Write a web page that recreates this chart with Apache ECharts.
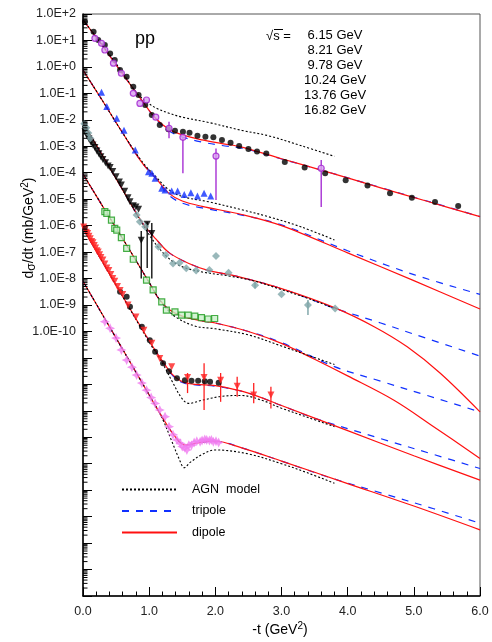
<!DOCTYPE html>
<html>
<head>
<meta charset="utf-8">
<script src="https://cdn.jsdelivr.net/npm/echarts@6/dist/echarts.min.js"></script>
<style>
  html, body { margin: 0; padding: 0; background: #fff; }
  #chart { width: 492px; height: 642px; }
</style>
</head>
<body>
<div id="chart"></div>
<script>
// all y values below are log10 of dsigma/dt (mb/GeV^2)

// --- 1st curve set ---
var s1Agn = [[0,1.78],[0.3,0.8],[0.6,-0.22],[0.8,-0.95],[0.95,-1.3],[1.1,-1.55],[1.3,-1.75],[1.5,-1.9],[1.9,-2.1],[2.4,-2.4],[2.8,-2.6],[3.3,-2.98],[3.8,-3.38]];
var s1Tri = [[0,1.78],[0.3,0.78],[0.6,-0.27],[0.9,-1.3],[1.1,-1.97],[1.3,-2.42],[1.5,-2.65],[1.8,-2.84],[2.1,-2.97],[2.4,-3.07],[3.0,-3.48],[3.6,-3.9],[4.5,-4.56],[5.2,-5.07],[6.0,-5.66]];
var s1Dip = [[0,1.78],[0.3,0.78],[0.6,-0.27],[0.9,-1.3],[1.1,-1.95],[1.3,-2.36],[1.5,-2.57],[1.8,-2.76],[2.1,-2.9],[2.4,-3.03],[3.0,-3.47],[3.6,-3.9],[4.5,-4.57],[5.2,-5.08],[6.0,-5.66]];
var s1Black = [[0.03,1.71],[0.16,1.33],[0.23,1.02],[0.33,0.83],[0.41,0.51],[0.48,0.26],[0.56,-0.12],[0.66,-0.37],[0.76,-0.75],[0.84,-1.06],[0.94,-1.44],[1.04,-1.82],[1.16,-2.2],[1.29,-2.36],[1.39,-2.41],[1.51,-2.45],[1.61,-2.49],[1.73,-2.6],[1.85,-2.64],[1.97,-2.66],[2.1,-2.76],[2.23,-2.87],[2.36,-2.99],[2.5,-3.1],[2.63,-3.2],[2.77,-3.27],[3.05,-3.59],[3.35,-3.8],[3.66,-4.02],[3.97,-4.28],[4.3,-4.48],[4.64,-4.78],[4.97,-4.95],[5.32,-5.11],[5.67,-5.26]];
var s1Purple = [[0.18,1.08],[0.28,0.89],[0.33,0.64],[0.46,0.14],[0.58,-0.24],[0.76,-1.0],[0.86,-1.38],[0.96,-1.25],[1.1,-1.9],[1.3,-2.32],[1.51,-2.66],[2.01,-3.37],[3.6,-3.83]];
var s1PurpleBars = [[1.3,-2.07,-2.7],[1.51,-2.64,-4.02],[2.01,-3.08,-5.03],[3.6,-3.52,-5.3]];

// --- 2nd curve set ---
var s2Agn = [[0,-0.12],[0.3,-1.3],[0.6,-2.5],[0.9,-3.6],[1.1,-4.15],[1.3,-4.65],[1.5,-4.9],[1.9,-5.1],[2.4,-5.4],[2.8,-5.66],[3.3,-6.05],[3.8,-6.54]];
var s2Tri = [[0,-0.12],[0.3,-1.3],[0.6,-2.5],[0.9,-3.65],[1.1,-4.22],[1.3,-4.85],[1.5,-5.15],[1.8,-5.33],[2.4,-5.6],[3.0,-5.97],[4.0,-6.95],[5.0,-7.85],[6.0,-8.6]];
var s2Dip = [[0,-0.12],[0.3,-1.3],[0.6,-2.5],[0.9,-3.65],[1.1,-4.2],[1.3,-4.78],[1.5,-5.07],[1.8,-5.27],[2.4,-5.58],[3.0,-6.0],[4.0,-7.03],[5.0,-8.08],[6.0,-9.15]];
var s2Blue = [[0.28,-0.96],[0.36,-1.5],[0.51,-1.94],[0.62,-2.39],[0.79,-3.14],[0.99,-3.96],[1.04,-4.02],[1.09,-4.21],[1.19,-4.59],[1.24,-4.65],[1.34,-4.69],[1.43,-4.69],[1.53,-4.82],[1.63,-4.76],[1.73,-4.88],[1.83,-4.78],[1.93,-4.88]];

// --- 3rd curve set ---
var s3Agn = [[0,-2.12],[0.3,-3.37],[0.6,-4.65],[0.95,-6.15],[1.2,-7.0],[1.45,-7.5],[1.8,-7.75],[2.2,-7.9],[2.6,-8.1],[3.0,-8.42],[3.4,-8.75],[3.8,-9.13]];
var s3Tri = [[0,-2.12],[0.3,-3.37],[0.6,-4.65],[0.9,-5.9],[1.1,-6.5],[1.3,-7.02],[1.6,-7.43],[1.9,-7.7],[2.3,-7.9],[3.0,-8.38],[3.8,-9.12],[4.5,-9.68],[5.0,-10.1],[6.0,-10.93]];
var s3Dip = [[0,-2.12],[0.3,-3.37],[0.6,-4.65],[0.9,-5.9],[1.1,-6.5],[1.3,-7.02],[1.6,-7.43],[1.9,-7.7],[2.3,-7.9],[3.0,-8.38],[3.8,-9.1],[4.4,-9.82],[4.9,-10.58],[5.4,-11.58],[6.0,-13.04]];
var s3Black = [[0.03,-2.45],[0.06,-2.6],[0.09,-2.72],[0.12,-2.85],[0.15,-2.95],[0.18,-3.05],[0.21,-3.18],[0.24,-3.28],[0.27,-3.4],[0.3,-3.5],[0.34,-3.62],[0.38,-3.75],[0.41,-3.8],[0.45,-3.95],[0.5,-4.15],[0.55,-4.35],[0.58,-4.46],[0.63,-4.7],[0.68,-4.95],[0.71,-5.1],[0.76,-5.25],[0.8,-5.3],[0.84,-5.38],[0.88,-6.55],[0.97,-5.95],[1.04,-6.3]];
var s3BlackBars = [[0.88,-6.2,-8.0],[0.97,-5.85,-7.6],[1.04,-5.9,-8.0]];
var s3Teal = [[0.02,-2.15],[0.05,-2.3],[0.08,-2.5],[0.11,-2.7],[0.81,-5.6],[0.86,-5.85],[0.94,-6.04],[1.14,-6.8],[1.25,-7.11],[1.36,-7.43],[1.46,-7.4],[1.56,-7.61],[1.71,-7.7],[1.91,-7.68],[2.01,-7.15],[2.2,-7.78],[2.6,-8.25],[3.0,-8.59],[3.4,-9.0],[3.81,-9.13]];
var s3TealBars = [[2.6,-8.12,-8.37],[3.4,-8.81,-9.38]];

// --- 4th curve set ---
var s4Agn = [[0,-4.05],[0.3,-5.28],[0.7,-6.9],[1.0,-8.15],[1.2,-8.95],[1.4,-9.45],[1.7,-9.8],[2.0,-9.9],[2.5,-10.13],[3.0,-10.55],[3.4,-10.9],[3.8,-11.25]];
var s4Tri = [[0,-4.05],[0.3,-5.28],[0.7,-6.9],[1.0,-8.15],[1.15,-8.78],[1.3,-9.17],[1.5,-9.42],[1.8,-9.6],[2.0,-9.68],[2.5,-10.0],[3.0,-10.42],[3.8,-11.33],[4.5,-11.88],[5.2,-12.42],[6.0,-13.04]];
var s4Dip = [[0,-4.05],[0.3,-5.28],[0.7,-6.9],[1.0,-8.15],[1.15,-8.78],[1.3,-9.17],[1.5,-9.42],[1.8,-9.6],[2.0,-9.68],[2.5,-10.0],[3.0,-10.45],[3.5,-11.05],[4.0,-11.68],[4.7,-12.6],[5.3,-13.6],[6.0,-14.8]];
var s4Green = [[0.33,-5.47],[0.36,-5.54],[0.43,-5.79],[0.48,-6.1],[0.51,-6.17],[0.58,-6.45],[0.66,-6.86],[0.76,-7.27],[0.96,-8.06],[1.06,-8.43],[1.19,-8.88],[1.26,-9.19],[1.39,-9.26],[1.49,-9.38],[1.59,-9.38],[1.69,-9.42],[1.79,-9.48],[1.89,-9.53],[1.99,-9.51]];

// --- 5th curve set ---
var s5Agn = [[0,-6.1],[0.5,-8.25],[1.0,-10.4],[1.2,-11.2],[1.35,-11.9],[1.5,-12.55],[1.6,-12.72],[1.8,-12.6],[2.1,-12.45],[2.4,-12.42],[2.7,-12.6],[3.0,-12.9],[3.4,-13.25],[3.8,-13.6]];
var s5Tri = [[0,-6.1],[0.5,-8.25],[1.0,-10.35],[1.2,-11.12],[1.35,-11.65],[1.5,-11.93],[1.7,-12.02],[2.0,-12.07],[2.5,-12.33],[3.0,-12.8],[3.5,-13.28],[4.5,-14.05],[5.3,-14.65],[6.0,-15.18]];
var s5Dip = [[0,-6.1],[0.5,-8.25],[1.0,-10.35],[1.2,-11.12],[1.35,-11.62],[1.5,-11.9],[1.7,-12.0],[2.0,-12.05],[2.5,-12.33],[3.0,-12.8],[4.0,-13.75],[5.0,-14.7],[6.0,-15.62]];
var s5Red = [[0.01,-6.05],[0.03,-6.15],[0.05,-6.25],[0.07,-6.3],[0.09,-6.4],[0.11,-6.5],[0.13,-6.6],[0.15,-6.65],[0.17,-6.75],[0.19,-6.85],[0.21,-6.95],[0.23,-7.0],[0.25,-7.1],[0.27,-7.2],[0.3,-7.3],[0.33,-7.45],[0.36,-7.6],[0.39,-7.7],[0.42,-7.85],[0.45,-8.0],[0.48,-8.1],[0.52,-8.3],[0.56,-8.45],[0.6,-8.6],[0.68,-9.0],[0.8,-9.45],[0.92,-9.95],[1.04,-10.45],[1.16,-11.02],[1.34,-11.33],[1.58,-11.74],[1.83,-11.74],[2.08,-11.84],[2.33,-12.07],[2.58,-12.4],[2.84,-12.4]];
var s5RedBars = [[1.58,-11.57,-12.33],[1.83,-11.2,-12.97],[2.08,-11.57,-12.66],[2.33,-11.71,-12.47],[2.58,-11.95,-12.71],[2.84,-12.09,-12.91]];
var s5Black = [[0.56,-8.5],[0.66,-8.69],[0.71,-9.07],[0.89,-9.82],[1.01,-10.33],[1.09,-10.77],[1.21,-11.2],[1.3,-11.5],[1.42,-11.77],[1.54,-11.84],[1.64,-11.86],[1.74,-11.86],[1.84,-11.88],[1.92,-11.9],[2.05,-11.94]];

// --- 6th curve set ---
var s6Agn = [[0,-8.1],[0.5,-10.25],[1.0,-12.4],[1.2,-13.3],[1.35,-14.2],[1.45,-14.8],[1.53,-15.15],[1.62,-14.95],[1.8,-14.65],[2.0,-14.48],[2.5,-14.63],[3.0,-15.0],[3.4,-15.35],[3.8,-15.74]];
var s6Tri = [[0,-8.1],[0.5,-10.25],[1.0,-12.4],[1.2,-13.25],[1.4,-14.0],[1.55,-14.3],[1.75,-14.2],[2.0,-14.15],[2.4,-14.4],[3.0,-14.9],[3.7,-15.5],[4.5,-16.1],[5.3,-16.7],[6.0,-17.25]];
var s6Dip = [[0,-8.1],[0.5,-10.25],[1.0,-12.4],[1.2,-13.25],[1.4,-14.0],[1.55,-14.3],[1.75,-14.2],[2.0,-14.15],[2.4,-14.4],[3.0,-14.9],[4.0,-15.75],[5.0,-16.6],[6.0,-17.5]];
var s6Pink = [[0.33,-9.63],[0.41,-9.88],[0.5,-10.25],[0.58,-10.7],[0.66,-11.08],[0.74,-11.35],[0.81,-11.65],[0.89,-11.95],[0.96,-12.22],[1.03,-12.5],[1.09,-12.72],[1.16,-12.97],[1.24,-13.22],[1.3,-13.6],[1.36,-13.9],[1.42,-14.1],[1.47,-14.23],[1.5,-14.35],[1.54,-14.4],[1.57,-14.48],[1.6,-14.3],[1.64,-14.3],[1.68,-14.2],[1.72,-14.15],[1.77,-14.17],[1.8,-14.12],[1.84,-14.08],[1.87,-14.1],[1.91,-14.12],[1.94,-14.1],[1.97,-14.17],[2.01,-14.15],[2.05,-14.2]];

var energies = ['6.15 GeV', '8.21 GeV', '9.78 GeV', '10.24 GeV', '13.76 GeV', '16.82 GeV'];
var xTicks = [0, 1, 2, 3, 4, 5, 6];
var decadeMin = -20, decadeMax = 2, lastLabelledDecade = -10;

var FONT = '"Liberation Sans", Arial, sans-serif';

function toPts(arr) {
  return arr.map(function (p) { return [p[0], Math.pow(10, p[1])]; });
}
function toBars(arr) {
  return arr.map(function (p) { return [p[0], Math.pow(10, p[1]), Math.pow(10, p[2])]; });
}

// minor log ticks (2..9 x 10^n) along the left axis
var minorTicks = [];
for (var d = decadeMin; d < decadeMax; d++) {
  for (var k = 2; k <= 9; k++) minorTicks.push([0, k * Math.pow(10, d)]);
}

var sets = [
  { agn: s1Agn, tri: s1Tri, dip: s1Dip },
  { agn: s2Agn, tri: s2Tri, dip: s2Dip },
  { agn: s3Agn, tri: s3Tri, dip: s3Dip },
  { agn: s4Agn, tri: s4Tri, dip: s4Dip },
  { agn: s5Agn, tri: s5Tri, dip: s5Dip },
  { agn: s6Agn, tri: s6Tri, dip: s6Dip }
];

var series = [];
sets.forEach(function (s) {
  series.push({
    name: 'tripole', type: 'line', data: toPts(s.tri), symbol: 'none', smooth: 0.35,
    lineStyle: { color: '#1030ff', width: 1.2, type: [7, 7] }, itemStyle: { color: '#1030ff' }, z: 2
  });
  series.push({
    name: 'dipole', type: 'line', data: toPts(s.dip), symbol: 'none', smooth: 0.35,
    lineStyle: { color: '#ff1010', width: 1.2 }, itemStyle: { color: '#ff1010' }, z: 3
  });
  series.push({
    name: 'AGN  model', type: 'line', data: toPts(s.agn), symbol: 'none', smooth: 0.35,
    lineStyle: { color: '#000', width: 1.1, type: [2, 2] }, itemStyle: { color: '#000' }, z: 4
  });
});

function scatter(data, symbol, size, style, rotate) {
  return {
    type: 'scatter', data: toPts(data), symbol: symbol, symbolSize: size,
    symbolRotate: rotate || 0, itemStyle: style, z: 6, silent: true
  };
}
function bars(data, color) {
  return {
    type: 'custom', data: toBars(data), z: 5, silent: true,
    encode: { x: 0, y: [1, 2] },
    renderItem: function (params, api) {
      var a = api.coord([api.value(0), api.value(1)]);
      var b = api.coord([api.value(0), api.value(2)]);
      return { type: 'line', shape: { x1: a[0], y1: a[1], x2: b[0], y2: b[1] },
               style: { stroke: color, lineWidth: 1.3 } };
    }
  };
}

var starPath = 'path://M0,-5L1.6,-1.6L5,0L1.6,1.6L0,5L-1.6,1.6L-5,0L-1.6,-1.6Z';
var crossDiamond = 'path://M0,-6L3,0L0,6L-3,0Z';

series.push(bars(s1PurpleBars, '#a020d0'));
series.push(scatter(s1Black, 'circle', 6, { color: '#000' }));
series.push(scatter(s1Purple, 'circle', 6, { color: '#d8a0f0', borderColor: '#a020d0', borderWidth: 1.2 }));
series.push(scatter(s2Blue, 'triangle', 7, { color: '#1030ff' }));
series.push(bars(s3BlackBars, '#000'));
series.push(scatter(s3Black, 'triangle', 7, { color: '#000' }, 180));
series.push(bars(s3TealBars, '#6f9a9e'));
series.push(scatter(s3Teal, crossDiamond, 8, { color: '#7fa6a9' }));
series.push(scatter(s4Green, 'rect', 6, { color: '#c8f0c8', borderColor: '#1a9a1a', borderWidth: 1.2 }));
series.push(bars(s5RedBars, '#ff2020'));
series.push(scatter(s5Black, 'circle', 6, { color: '#000' }));
series.push(scatter(s5Red, 'triangle', 7, { color: '#ff2020' }, 180));
series.push(scatter(s6Pink, starPath, 10, { color: '#f07cf0' }));

series.push({
  type: 'custom', data: minorTicks, silent: true, z: 10, clip: false,
  encode: { x: 0, y: 1 },
  renderItem: function (params, api) {
    var p = api.coord([0, api.value(1)]);
    return { type: 'line', shape: { x1: p[0], y1: p[1], x2: p[0] + 4.5, y2: p[1] },
             style: { stroke: '#000', lineWidth: 1 } };
  }
});

var chart = echarts.init(document.getElementById('chart'), null, { renderer: 'canvas' });
chart.setOption({
  animation: false,
  backgroundColor: '#fff',
  textStyle: { fontFamily: FONT },
  grid: { left: 83, right: 12, top: 14, bottom: 46, show: true, borderColor: '#555', borderWidth: 1 },
  legend: {
    data: ['AGN  model', 'tripole', 'dipole'],
    orient: 'vertical', left: 116, top: 478,
    itemWidth: 55, itemHeight: 14, itemGap: 8.5,
    selectedMode: false,
    itemStyle: { opacity: 0 },
    textStyle: { fontSize: 12.5, color: '#000', fontFamily: FONT, padding: [0, 0, 0, 10] }
  },
  xAxis: {
    type: 'value', min: xTicks[0], max: xTicks[xTicks.length - 1], interval: 1,
    axisLine: { show: true, lineStyle: { color: '#000', width: 1.5 } },
    axisTick: { show: true, inside: true, length: 9, lineStyle: { color: '#000', width: 1 } },
    minorTick: { show: true, splitNumber: 5, length: 4.5, lineStyle: { color: '#000', width: 1 } },
    splitLine: { show: false },
    axisLabel: { fontSize: 12.5, color: '#222', margin: 9, fontFamily: FONT,
      formatter: function (v) { return v.toFixed(1); } }
  },
  yAxis: {
    type: 'log', logBase: 10, min: Math.pow(10, decadeMin), max: Math.pow(10, decadeMax),
    splitNumber: decadeMax - decadeMin, interval: 1,
    axisLine: { show: true, lineStyle: { color: '#000', width: 1.5 } },
    axisTick: { show: true, inside: true, length: 9, lineStyle: { color: '#000', width: 1 } },
    minorTick: { show: false },
    splitLine: { show: false },
    axisLabel: { fontSize: 12.5, color: '#222', margin: 7, fontFamily: FONT,
      formatter: function (v) {
        var e = Math.round(Math.log(v) / Math.LN10);
        if (e < lastLabelledDecade) return '';
        return '1.0E' + (e >= 0 ? '+' : '') + e;
      } }
  },
  graphic: [
    { type: 'text', x: 135, y: 39, style: { text: 'pp', font: '18px ' + FONT, fill: '#000', verticalAlign: 'middle' } },
    { type: 'text', x: 266, y: 36, style: { text: '\u221As =', font: '13px ' + FONT, fill: '#000', verticalAlign: 'middle' } },
    { type: 'line', shape: { x1: 274, y1: 29.5, x2: 283, y2: 29.5 }, style: { stroke: '#000', lineWidth: 1 } },
    { type: 'text', x: 335, y: 28, style: { text: energies.join('\n'), font: '13px ' + FONT, lineHeight: 15, fill: '#000', align: 'center', verticalAlign: 'top' } },
    { type: 'text', x: 29, y: 228, rotation: Math.PI / 2,
      style: { text: 'd{sub|\u03C3}/dt (mb/GeV{sup|2})', font: '14px ' + FONT, fill: '#000', align: 'center', verticalAlign: 'middle',
        rich: { sub: { fontSize: 12, fontFamily: FONT, verticalAlign: 'bottom', padding: [6, 0, 0, 0] },
                sup: { fontSize: 10, fontFamily: FONT, verticalAlign: 'top', padding: [0, 0, 8, 0] } } } },
    { type: 'text', x: 280, y: 630,
      style: { text: '-t (GeV{sup|2})', font: '14px ' + FONT, fill: '#000', align: 'center', verticalAlign: 'middle',
        rich: { sup: { fontSize: 10, fontFamily: FONT, verticalAlign: 'top', padding: [0, 0, 8, 0] } } } }
  ],
  series: series
});
</script>
</body>
</html>
